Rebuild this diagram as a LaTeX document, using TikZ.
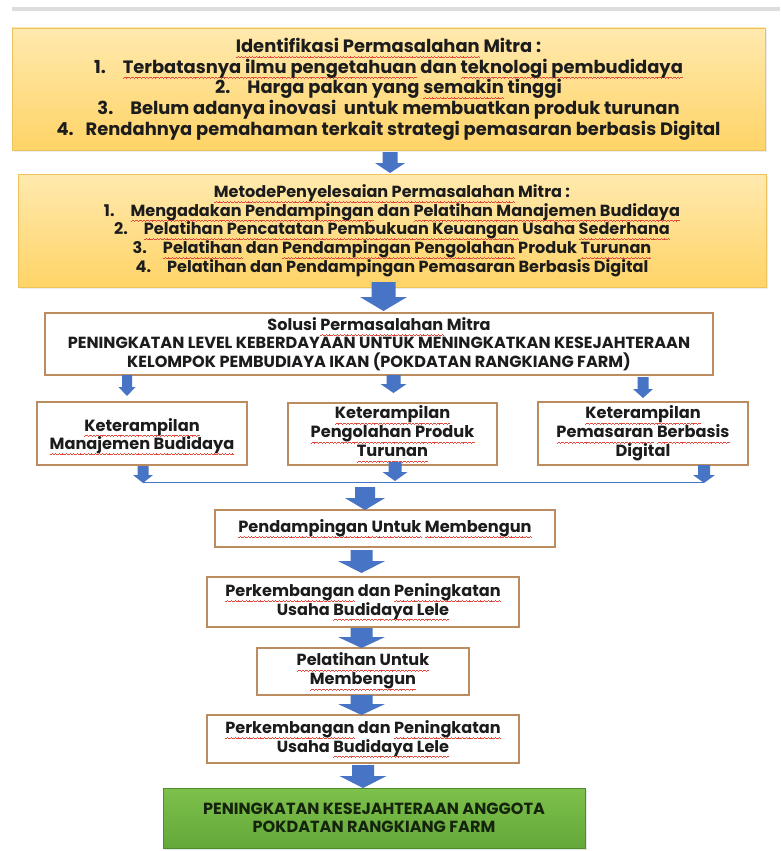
\documentclass[tikz,border=0pt]{standalone}
\usepackage{fontspec}
\setmainfont{Poppins}
\usetikzlibrary{shadows}
\definecolor{txt}{HTML}{1C1C1C}
\definecolor{squig}{HTML}{E4473B}
\definecolor{ytop}{HTML}{FFE9AE}
\definecolor{ybot}{HTML}{FFD467}
\definecolor{ybord}{HTML}{EDC25C}
\definecolor{wbord}{HTML}{BB8C60}
\definecolor{gtop}{HTML}{7DC04B}
\definecolor{gbot}{HTML}{64A83A}
\definecolor{gbord}{HTML}{4E8C2C}
\definecolor{gtxt}{HTML}{15240C}
\definecolor{arrblue}{HTML}{4774C5}
\definecolor{greyline}{HTML}{DDDDDD}
\newsavebox\sqbox
\newsavebox\wavebox
\newcommand\sq[1]{\sbox\sqbox{#1}\leavevmode\rlap{\lower4.2pt\hbox to \wd\sqbox{\xleaders\copy\wavebox\hfill}}\usebox\sqbox}
\newcommand\blockarr[6]{% cx, ytop, ybot, shaft half width, head half width, head length
  \fill[arrblue] (#1-#4,#2) -- (#1+#4,#2) -- (#1+#4,#3-#6) -- (#1+#5,#3-#6) -- (#1,#3)
     -- (#1-#5,#3-#6) -- (#1-#4,#3-#6) -- cycle;}
\newcommand\fs[2]{\bfseries\fontsize{#1}{#2}\selectfont}
\begin{document}
\begin{tikzpicture}[x=1pt,y=-1pt,
  every node/.style={text=txt, inner sep=0pt, align=center},
  ybox/.style={draw=ybord, line width=0.8pt, top color=ytop, bottom color=ybot,
     drop shadow={opacity=0.15, shadow xshift=1.5pt, shadow yshift=-1.5pt}},
  wbox/.style={draw=wbord, line width=1.2pt, fill=white},
  gbox/.style={draw=gbord, line width=1pt, top color=gtop, bottom color=gbot, text=gtxt,
     drop shadow={opacity=0.2, shadow xshift=1.5pt, shadow yshift=-1.5pt}},
  conn/.style={draw=arrblue, line width=1pt}
]
\global\sbox\wavebox{\color{squig}\rule[-1.0pt]{1pt}{0.45pt}\rule[-0.5pt]{0.8pt}{0.45pt}\rule[0pt]{1pt}{0.45pt}\rule[-0.5pt]{0.8pt}{0.45pt}}%
\useasboundingbox (0,0) rectangle (780,851);
\fill[white] (0,0) rectangle (780,851);
\fill[greyline] (12,7.5) rectangle (780,11);

% Box 1
\node[ybox, minimum width=753pt, minimum height=122pt, font=\fs{17.9}{20.7}] (b1) at (388.5,89)
 {\sq{Identifikasi Permasalahan} Mitra :\\
  1.\hspace{17pt}\sq{Terbatasnya ilmu pengetahuan} dan \sq{teknologi pembudidaya}\\
  2.\hspace{17pt}Harga pakan yang \sq{semakin} tinggi\\
  3.\hspace{17pt}Belum adanya inovasi\ \ untuk membuatkan produk turunan\\
  4.\hspace{12pt}Rendahnya pemahaman terkait strategi pemasaran berbasis Digital};

% Box 2
\node[ybox, minimum width=748pt, minimum height=113pt, font=\fs{16.1}{18.7}] (b2) at (392,230.5)
 {\sq{MetodePenyelesaian Permasalahan} Mitra :\\
  1.\hspace{16pt}\sq{Mengadakan Pendampingan} dan \sq{Pelatihan Manajemen Budidaya}\\
  2.\hspace{16pt}\sq{Pelatihan Pencatatan Pembukuan Keuangan} Usaha \sq{Sederhana}\\
  3.\hspace{16pt}\sq{Pelatihan} dan \sq{Pendampingan Pengolahan} Produk \sq{Turunan}\\
  4.\hspace{16pt}Pelatihan dan Pendampingan Pemasaran Berbasis Digital};

% Solusi
\node[wbox, minimum width=668pt, minimum height=62pt, font=\fs{16.1}{18.5}] (sol) at (379,344)
 {Solusi \sq{Permasalahan} Mitra\\
  PENINGKATAN LEVEL KEBERDAYAAN UNTUK MENINGKATKAN KESEJAHTERAAN\\
  KELOMPOK PEMBUDIAYA IKAN (POKDATAN RANGKIANG FARM)};

% three skill boxes
\node[wbox, minimum width=210pt, minimum height=63pt] (k1) at (142,433.5) {};
\node[font=\fs{16.2}{18.5}] (k1t) at ([yshift=-3pt]k1.center)
 {\sq{Keterampilan}\\ \sq{Manajemen Budidaya}};
\node[wbox, minimum width=209pt, minimum height=62pt, font=\fs{16.2}{19}] (k2) at (392.5,434)
 {\sq{Keterampilan}\\ \sq{Pengolahan Produk}\\ \sq{Turunan}};
\node[wbox, minimum width=210pt, minimum height=63pt, font=\fs{16.2}{19}] (k3) at (643,433.5)
 {\sq{Keterampilan}\\ \sq{Pemasaran} \sq{Berbasis}\\ Digital};

% chain
\node[wbox, minimum width=340pt, minimum height=37pt, font=\fs{16.2}{18.5}] (pd) at (385,528.5)
 {\sq{Pendampingan Untuk} \sq{Membengun}};
\node[wbox, minimum width=312pt, minimum height=50pt, font=\fs{16.1}{18.5}] (pk1) at (363,602)
 {\sq{Perkembangan} dan \sq{Peningkatan}\\ Usaha \sq{Budidaya Lele}};
\node[wbox, minimum width=212pt, minimum height=47pt, font=\fs{16.1}{19}] (pl) at (363,671.5)
 {\sq{Pelatihan Untuk}\\ \sq{Membengun}};
\node[wbox, minimum width=312pt, minimum height=48pt, font=\fs{16.1}{18.5}] (pk2) at (363,739)
 {\sq{Perkembangan} dan \sq{Peningkatan}\\ Usaha \sq{Budidaya Lele}};
\node[gbox, minimum width=422pt, minimum height=60pt, font=\fs{16.1}{18}] (gr) at (374,818)
 {PENINGKATAN KESEJAHTERAAN ANGGOTA\\ POKDATAN RANGKIANG FARM};

% block arrows
\blockarr{390}{152}{173}{7.5}{15}{10}
\blockarr{383.5}{282}{311}{12}{23.5}{14}
\blockarr{127}{375}{396}{5}{8.5}{9}
\blockarr{393.5}{375}{393}{7}{13}{9}
\blockarr{643}{377}{398}{5.5}{10}{9}
\blockarr{143}{466}{483}{5.5}{10}{8}
\blockarr{395}{462}{481}{6.5}{12.5}{9}
\blockarr{704}{465}{483}{6}{11}{8}
\coordinate (hl) at (143,482);
\coordinate (hr) at (704,482);
\draw[conn] (hl) -- (hr);
\blockarr{365}{487}{510}{10}{20}{12}
\blockarr{361.5}{550}{573}{11}{23.5}{12}
\blockarr{361.5}{628}{648}{11}{23.5}{11}
\blockarr{361.5}{695}{715}{11}{23.5}{11}
\blockarr{363}{765}{788}{11}{23.5}{12}
\end{tikzpicture}
\end{document}
